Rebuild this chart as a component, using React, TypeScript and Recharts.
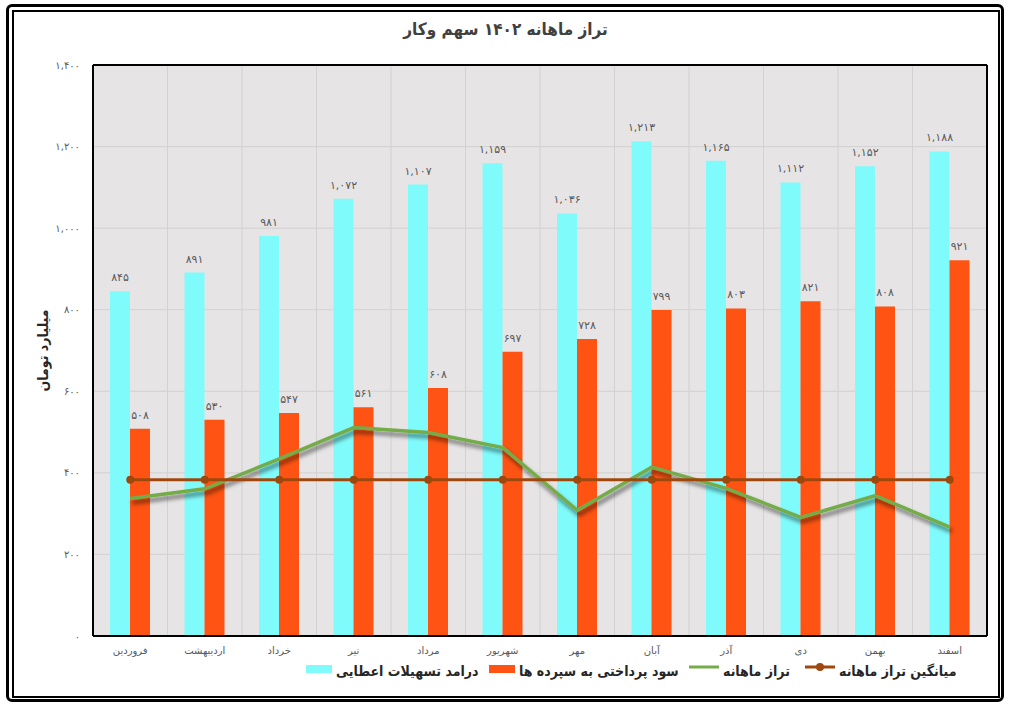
import React from "react";
import {
  ComposedChart,
  Bar,
  Line,
  XAxis,
  YAxis,
  CartesianGrid,
  LabelList,
  Legend,
  ReferenceLine,
} from "recharts";

const months = [
  "فروردین",
  "اردیبهشت",
  "خرداد",
  "تیر",
  "مرداد",
  "شهریور",
  "مهر",
  "آبان",
  "آذر",
  "دی",
  "بهمن",
  "اسفند",
];
const income = [845, 891, 981, 1072, 1107, 1159, 1036, 1213, 1165, 1112, 1152, 1188];
const interest = [508, 530, 547, 561, 608, 697, 728, 799, 803, 821, 808, 921];
const balance = [337, 361, 434, 511, 499, 462, 308, 414, 362, 291, 344, 267];
const avgBalance = [383, 383, 383, 383, 383, 383, 383, 383, 383, 383, 383, 383];
const yTicks = [0, 200, 400, 600, 800, 1000, 1200, 1400];
const legendOrder = ["income", "interest", "balance", "avg"];

const FONT = "'DejaVu Sans', sans-serif";
const BOLD_FONT = "'DejaVu Sans Condensed', 'DejaVu Sans', sans-serif";
const faDigits = "۰۱۲۳۴۵۶۷۸۹";
const toFa = (n: number) =>
  n.toLocaleString("en-US").replace(/\d/g, (d) => faDigits[Number(d)]);

const data = months.map((m, i) => ({
  month: m,
  income: income[i],
  interest: interest[i],
  balance: balance[i],
  avg: avgBalance[i],
}));

// legend item slot widths, left to right
const slotWidths = [183, 200, 116, 160];

/* legend drawn from the series payload */
function LegendContent({ payload }: { payload?: any[] }) {
  if (!payload) return null;
  const items = [...payload].sort(
    (a, b) => legendOrder.indexOf(a.dataKey) - legendOrder.indexOf(b.dataKey)
  );
  return (
    <div style={{ display: "flex", paddingLeft: 306, fontFamily: BOLD_FONT }}>
      {items.map((p, i) => (
        <div
          key={p.value}
          style={{ display: "flex", alignItems: "flex-start", whiteSpace: "nowrap", width: slotWidths[i] }}
        >
          {p.type === "rect" ? (
            <span style={{ width: 26, height: 8, background: p.color, marginTop: 4 }} />
          ) : (
            <svg width={30} height={14}>
              <line x1={0} y1={6} x2={30} y2={6} stroke={p.color} strokeWidth={3} />
              {p.dataKey === "avg" && <circle cx={15} cy={6} r={4} fill={p.color} />}
            </svg>
          )}
          <span
            dir="rtl"
            style={{ marginLeft: 4, fontSize: 14, fontWeight: "bold", color: "#262626", lineHeight: "20px" }}
          >
            {p.value}
          </span>
        </div>
      ))}
    </div>
  );
}

export default function App() {
  return (
    <div style={{ position: "absolute", left: 0, top: 0, width: 1011, height: 709, background: "#fff" }}>
      {/* double frame */}
      <div style={{ position: "absolute", left: 6, top: 4, width: 992, height: 692, border: "3px solid #000", borderRadius: 6 }} />
      <div style={{ position: "absolute", left: 12, top: 10, width: 984, height: 684, border: "2px solid #000" }} />
      <div
        dir="rtl"
        style={{
          position: "absolute",
          left: 0,
          top: 19,
          width: 1011,
          textAlign: "center",
          fontFamily: BOLD_FONT,
          fontWeight: "bold",
          fontSize: 17,
          color: "#404040",
        }}
      >
        تراز ماهانه ۱۴۰۲ سهم وکار
      </div>
      <div style={{ position: "absolute", left: 0, top: 0 }}>
        <ComposedChart
          width={1011}
          height={709}
          data={data}
          margin={{ top: 65, right: 24, bottom: 43, left: 0 }}
          barGap={0}
          style={{ fontFamily: FONT }}
        >
          <defs>
            <filter id="lineShadow" x="-10%" y="-50%" width="120%" height="200%">
              <feDropShadow dx={2} dy={4} stdDeviation={2} floodColor="#000" floodOpacity={0.55} />
            </filter>
          </defs>
          <CartesianGrid
            fill="#E6E4E5"
            stroke="#D2D2D2"
            verticalCoordinatesGenerator={({ offset }: any) =>
              months.map((_, i) => offset.left + (i * offset.width) / months.length)
            }
          />
          <XAxis
            dataKey="month"
            tickLine={false}
            tickMargin={5}
            axisLine={{ stroke: "#000", strokeWidth: 2 }}
            tick={{ fontSize: 10, fill: "#595959" }}
            interval={0}
          />
          <YAxis
            width={93}
            domain={[0, 1400]}
            ticks={yTicks}
            tickFormatter={toFa}
            tickLine={false}
            tickMargin={7}
            axisLine={{ stroke: "#000", strokeWidth: 2 }}
            tick={{ fontSize: 10, fill: "#595959" }}
            label={{
              value: "میلیارد تومان",
              angle: -90,
              position: "center",
              dx: -3,
              style: { fontSize: 14, fontWeight: "bold", fill: "#262626", fontFamily: BOLD_FONT },
            }}
          />
          <ReferenceLine y={1400} stroke="#000" strokeWidth={2} />
          <ReferenceLine x={months[months.length - 1]} position="end" stroke="#000" strokeWidth={2} />
          <Bar dataKey="income" name="درامد تسهیلات اعطایی" fill="#80FBFB" barSize={20} isAnimationActive={false}>
            <LabelList dataKey="income" position="top" offset={10} formatter={(v: any) => toFa(Number(v))} style={{ fontSize: 11, fill: "#595959" }} />
          </Bar>
          <Bar dataKey="interest" name="سود پرداختی به سپرده ها" fill="#FE5312" barSize={20} isAnimationActive={false}>
            <LabelList dataKey="interest" position="top" offset={10} formatter={(v: any) => toFa(Number(v))} style={{ fontSize: 11, fill: "#595959" }} />
          </Bar>
          <Line
            dataKey="balance"
            name="تراز ماهانه"
            stroke="#74AC4A"
            strokeWidth={3.5}
            dot={false}
            filter="url(#lineShadow)"
            isAnimationActive={false}
          />
          <Line
            dataKey="avg"
            name="میانگین تراز ماهانه"
            stroke="#9E480E"
            strokeWidth={3}
            dot={{ r: 4, fill: "#9E480E", stroke: "#9E480E", strokeWidth: 0 }}
            isAnimationActive={false}
          />
          <Legend
            layout="horizontal"
            verticalAlign="middle"
            align="center"
            content={<LegendContent />}
            wrapperStyle={{ top: 661, left: 0, width: 1011 }}
          />
        </ComposedChart>
      </div>
    </div>
  );
}
